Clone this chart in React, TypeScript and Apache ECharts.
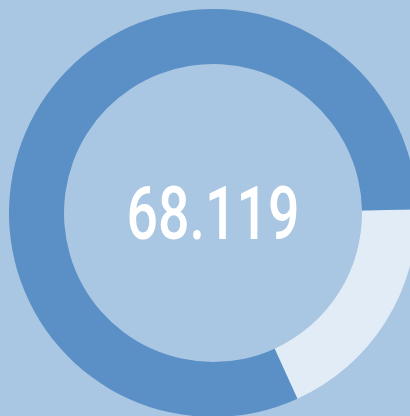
import React, { useEffect, useRef } from "react";
import * as echarts from "echarts";

const categories = ["remaining", "value"];
const values = [15.45, 68.119];
const colors = ["#e2ecf6", "#5b90c6"];
const centerLabel = "68.119";

export default function App() {
  const ref = useRef<HTMLDivElement>(null);
  useEffect(() => {
    if (!ref.current) return;
    const chart = echarts.init(ref.current, undefined, { renderer: "svg" });
    chart.setOption({
      animation: false,
      backgroundColor: "#a9c6e2",
      series: [
        {
          type: "pie",
          center: [213, 213],
          radius: [149, 204],
          startAngle: 1,
          clockwise: true,
          silent: true,
          label: { show: false },
          labelLine: { show: false },
          data: categories.map((c, i) => ({
            name: c,
            value: values[i],
            itemStyle: { color: colors[i] },
          })),
        },
      ],
      graphic: [
        {
          type: "text",
          x: 213,
          y: 213,
          scaleX: 0.74,
          style: {
            text: centerLabel,
            fill: "#ffffff",
            font: "500 75px Roboto, sans-serif",
            textAlign: "center",
            textVerticalAlign: "middle",
          },
        },
      ],
    });
    return () => chart.dispose();
  }, []);
  return (
    <div
      ref={ref}
      style={{ position: "fixed", left: 0, top: 0, width: 410, height: 416 }}
    />
  );
}
